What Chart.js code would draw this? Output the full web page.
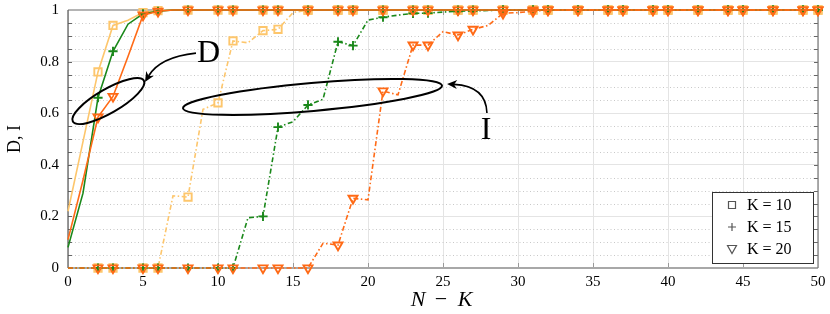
<!DOCTYPE html>
<html>
<head>
<meta charset="utf-8">
<script src="https://cdn.jsdelivr.net/npm/chart.js@4"></script>
<style>
  html, body { margin: 0; padding: 0; background: #fff; }
  #wrap { width: 830px; height: 314px; }
</style>
</head>
<body>
<div id="wrap"><canvas id="chart"></canvas></div>
<script>
// N - K values (x axis)
var nk = [0,1,2,3,4,5,6,7,8,9,
          10,11,12,13,14,15,16,17,18,19,
          20,21,22,23,24,25,26,27,28,29,
          30,31,32,33,34,35,36,37,38,39,
          40,41,42,43,44,45,46,47,48,49,
          50];

// x values that carry a marker
var markerAt = [2,3,5,6,8,10,11,13,14,16,18,19,21,23,24,26,27,29,31,32,34,36,37,39,40,42,44,45,47,49,50];

// D curves (solid)
var d10 = [0.22,0.49,0.76,0.94,0.96,0.99,0.998,1,1,1,
           1,1,1,1,1,1,1,1,1,1,
           1,1,1,1,1,1,1,1,1,1,
           1,1,1,1,1,1,1,1,1,1,
           1,1,1,1,1,1,1,1,1,1,
           1];
var d15 = [0.08,0.29,0.66,0.84,0.945,0.985,0.995,1,1,1,
           1,1,1,1,1,1,1,1,1,1,
           1,1,1,1,1,1,1,1,1,1,
           1,1,1,1,1,1,1,1,1,1,
           1,1,1,1,1,1,1,1,1,1,
           1];
var d20 = [0.11,0.34,0.585,0.665,0.82,0.98,0.995,1,1,1,
           1,1,1,1,1,1,1,1,1,1,
           1,1,1,1,1,1,1,1,1,1,
           1,1,1,1,1,1,1,1,1,1,
           1,1,1,1,1,1,1,1,1,1,
           1];

// I curves (dash-dot)
var i10 = [0,0,0,0,0,0,0,0.28,0.275,0.615,
           0.64,0.88,0.873,0.92,0.925,0.99,1,1,1,1,
           1,1,1,1,1,1,1,1,1,1,
           1,1,1,1,1,1,1,1,1,1,
           1,1,1,1,1,1,1,1,1,1,
           1];
var i15 = [0,0,0,0,0,0,0,0,0,0,
           0,0,0.195,0.2,0.546,0.567,0.632,0.654,0.877,0.862,
           0.961,0.972,0.98,0.987,0.988,0.992,0.995,0.997,0.998,1,
           1,1,1,1,1,1,1,1,1,1,
           1,1,1,1,1,1,1,1,1,1,
           1];
var i20 = [0,0,0,0,0,0,0,0,0,0,
           0,0,0,0,0,0,0,0.096,0.089,0.27,
           0.264,0.686,0.671,0.864,0.864,0.916,0.903,0.925,0.94,0.987,
           0.99,0.995,1,1,1,1,1,1,1,1,
           1,1,1,1,1,1,1,1,1,1,
           1];

var legendLabels = ['K = 10', 'K = 15', 'K = 20'];

var cYellow = 'rgb(253,198,108)';
var cGreen = 'rgb(26,136,26)';
var cOrange = 'rgb(255,106,22)';
var serif = '"Liberation Serif", "DejaVu Serif", serif';
var dashDot = [5, 2.5, 1.5, 2.5];

function pts(arr) {
    return nk.map(function (x, i) { return { x: x, y: arr[i] }; });
}
function radii(r) {
    return nk.map(function (x) { return markerAt.indexOf(x) >= 0 ? r : 0; });
}
function series(arr, color, style, r, rot, dashed) {
    return {
        data: pts(arr),
        borderColor: color,
        backgroundColor: 'rgba(0,0,0,0)',
        borderWidth: 1.6,
        borderDash: dashed ? dashDot : [],
        pointStyle: style,
        pointRotation: rot,
        pointRadius: radii(r),
        pointBorderWidth: 1.9,
        pointBorderColor: color,
        pointBackgroundColor: 'rgba(0,0,0,0)',
        tension: 0,
        clip: 10
    };
}

// annotation anchors, in data units
var ellipseD = { x: 2.69, y: 0.647, a: 41, b: 12, rot: -30 };
var ellipseI = { x: 16.3, y: 0.663, a: 130, b: 14, rot: -5 };
var arrowD = [[8.53, 0.833], [6.13, 0.818], [5.13, 0.721]];
var arrowI = [[27.93, 0.601], [27.87, 0.705], [25.27, 0.713]];
var labelD = { x: 9.37, y: 0.831, text: 'D' };
var labelI = { x: 27.87, y: 0.531, text: 'I' };

var framePlugin = {
    id: 'frame',
    beforeDatasetsDraw: function (chart) {
        var ctx = chart.ctx, a = chart.chartArea;
        var xs = chart.scales.x, ys = chart.scales.y;
        ctx.save();
        // minor dotted grid
        ctx.strokeStyle = '#c8c8c8';
        ctx.lineWidth = 1;
        ctx.setLineDash([1, 2.5]);
        for (var k = 1; k < 20; k++) {
            if (k % 4 === 0) continue;
            var py = Math.round(ys.getPixelForValue(k * 0.05)) + 0.5;
            ctx.beginPath(); ctx.moveTo(a.left, py); ctx.lineTo(a.right, py); ctx.stroke();
        }
        ctx.setLineDash([]);
        // tick marks
        ctx.strokeStyle = '#666';
        ctx.lineWidth = 1;
        for (var j = 1; j < 20; j++) {
            var ty = Math.round(ys.getPixelForValue(j * 0.05)) + 0.5;
            ctx.beginPath();
            ctx.moveTo(a.left, ty); ctx.lineTo(a.left + 4, ty);
            ctx.moveTo(a.right, ty); ctx.lineTo(a.right - 4, ty);
            ctx.stroke();
        }
        ctx.strokeStyle = '#999';
        for (var t = 5; t < 50; t += 5) {
            var tx = Math.round(xs.getPixelForValue(t)) + 0.5;
            ctx.beginPath();
            ctx.moveTo(tx, a.bottom); ctx.lineTo(tx, a.bottom - 5);
            ctx.moveTo(tx, a.top); ctx.lineTo(tx, a.top + 5);
            ctx.stroke();
        }
        // frame
        ctx.lineWidth = 2;
        ctx.strokeStyle = '#b4b4b4';
        ctx.beginPath(); ctx.moveTo(a.left, a.top); ctx.lineTo(a.right, a.top); ctx.stroke();
        ctx.strokeStyle = '#a8a8a8';
        ctx.beginPath(); ctx.moveTo(a.left, a.bottom); ctx.lineTo(a.right, a.bottom); ctx.stroke();
        ctx.lineWidth = 1.2;
        ctx.strokeStyle = '#555';
        ctx.beginPath(); ctx.moveTo(a.left, a.top); ctx.lineTo(a.left, a.bottom); ctx.stroke();
        ctx.strokeStyle = '#777';
        ctx.beginPath(); ctx.moveTo(a.right, a.top); ctx.lineTo(a.right, a.bottom); ctx.stroke();
        ctx.restore();
    }
};

function arrow(ctx, xs, ys, p) {
    var p0 = [xs.getPixelForValue(p[0][0]), ys.getPixelForValue(p[0][1])];
    var p1 = [xs.getPixelForValue(p[1][0]), ys.getPixelForValue(p[1][1])];
    var p2 = [xs.getPixelForValue(p[2][0]), ys.getPixelForValue(p[2][1])];
    var ang = Math.atan2(p2[1] - p1[1], p2[0] - p1[0]);
    var len = 10, hw = 4.5;
    var bx = p2[0] - Math.cos(ang) * len * 0.7, by = p2[1] - Math.sin(ang) * len * 0.7;
    ctx.beginPath();
    ctx.moveTo(p0[0], p0[1]);
    ctx.quadraticCurveTo(p1[0], p1[1], bx, by);
    ctx.stroke();
    ctx.beginPath();
    ctx.moveTo(p2[0], p2[1]);
    ctx.lineTo(p2[0] - Math.cos(ang) * len - Math.sin(ang) * hw, p2[1] - Math.sin(ang) * len + Math.cos(ang) * hw);
    ctx.lineTo(bx, by);
    ctx.lineTo(p2[0] - Math.cos(ang) * len + Math.sin(ang) * hw, p2[1] - Math.sin(ang) * len - Math.cos(ang) * hw);
    ctx.closePath();
    ctx.fill();
}

var notesPlugin = {
    id: 'notes',
    afterDatasetsDraw: function (chart) {
        var ctx = chart.ctx, xs = chart.scales.x, ys = chart.scales.y;
        ctx.save();
        ctx.strokeStyle = '#000';
        ctx.fillStyle = '#000';
        ctx.lineWidth = 2;
        [ellipseD, ellipseI].forEach(function (e) {
            ctx.beginPath();
            ctx.ellipse(xs.getPixelForValue(e.x), ys.getPixelForValue(e.y), e.a, e.b, e.rot * Math.PI / 180, 0, Math.PI * 2);
            ctx.stroke();
        });
        ctx.lineWidth = 1.6;
        arrow(ctx, xs, ys, arrowD);
        arrow(ctx, xs, ys, arrowI);
        ctx.font = '32px ' + serif;
        ctx.textAlign = 'center';
        ctx.textBaseline = 'middle';
        [labelD, labelI].forEach(function (l) {
            ctx.fillText(l.text, xs.getPixelForValue(l.x), ys.getPixelForValue(l.y));
        });
        ctx.restore();
    },
    afterDraw: function (chart) {
        var ctx = chart.ctx, a = chart.chartArea;
        ctx.save();
        // axis titles
        ctx.fillStyle = '#000';
        ctx.textBaseline = 'middle';
        ctx.textAlign = 'center';
        ctx.font = 'italic 22px ' + serif;
        var cx = (a.left + a.right) / 2, ty = 300;
        ctx.fillText('N', cx - 25, ty);
        ctx.fillText('K', cx + 22, ty);
        ctx.font = '22px ' + serif;
        ctx.fillText('\u2212', cx - 2, ty);
        ctx.translate(15, (a.top + a.bottom) / 2);
        ctx.rotate(-Math.PI / 2);
        ctx.font = '18px ' + serif;
        ctx.fillText('D, I', 0, 0);
        ctx.restore();

        // legend box
        ctx.save();
        var left = a.right - 106, top = a.bottom - 76, w = 101, h = 71;
        ctx.fillStyle = '#fff';
        ctx.fillRect(left, top, w, h);
        ctx.strokeStyle = '#333';
        ctx.lineWidth = 1;
        ctx.strokeRect(left + 0.5, top + 0.5, w, h);
        ctx.strokeStyle = '#555';
        ctx.lineWidth = 1.2;
        ctx.fillStyle = '#000';
        ctx.font = '16px ' + serif;
        ctx.textAlign = 'left';
        ctx.textBaseline = 'middle';
        legendLabels.forEach(function (txt, i) {
            var my = top + 13 + i * 22, mx = left + 20;
            ctx.beginPath();
            if (i === 0) {
                ctx.rect(mx - 3.5, my - 3.5, 7, 7);
            } else if (i === 1) {
                ctx.moveTo(mx - 4, my); ctx.lineTo(mx + 4, my);
                ctx.moveTo(mx, my - 4); ctx.lineTo(mx, my + 4);
            } else {
                ctx.moveTo(mx - 4.5, my - 3.5); ctx.lineTo(mx + 4.5, my - 3.5); ctx.lineTo(mx, my + 4.5); ctx.closePath();
            }
            ctx.stroke();
            ctx.fillText(txt, left + 35, my + 1);
        });
        ctx.restore();
    }
};

new Chart(document.getElementById('chart').getContext('2d'), {
    type: 'line',
    data: {
        datasets: [
            series(d20, cOrange, 'triangle', 5.2, 180, false),
            series(i20, cOrange, 'triangle', 5.2, 180, true),
            series(d15, cGreen, 'cross', 4.6, 0, false),
            series(i15, cGreen, 'cross', 4.6, 0, true),
            series(d10, cYellow, 'rect', 5.2, 0, false),
            series(i10, cYellow, 'rect', 5.2, 0, true)
        ]
    },
    plugins: [framePlugin, notesPlugin],
    options: {
        responsive: true,
        maintainAspectRatio: false,
        animation: false,
        layout: { padding: { top: 10, right: 12, left: 0, bottom: 0 } },
        plugins: { legend: { display: false }, tooltip: { enabled: false } },
        scales: {
            x: {
                type: 'linear',
                min: 0,
                max: 50,
                afterFit: function (s) { s.height = 46; s.paddingLeft = 0; s.paddingRight = 0; },
                ticks: { stepSize: 5, color: '#000', font: { family: serif, size: 15 }, padding: 5, maxRotation: 0 },
                grid: { color: '#e4e4e4', lineWidth: 1, drawTicks: false },
                border: { display: false }
            },
            y: {
                min: 0,
                max: 1,
                afterFit: function (s) { s.width = 68; s.paddingTop = 0; s.paddingBottom = 0; },
                ticks: {
                    stepSize: 0.2, color: '#000', font: { family: serif, size: 15 }, padding: 9,
                    callback: function (v) { return String(Math.round(v * 10) / 10); }
                },
                grid: { color: '#e4e4e4', lineWidth: 1, drawTicks: false },
                border: { display: false }
            }
        }
    }
});
</script>
</body>
</html>
